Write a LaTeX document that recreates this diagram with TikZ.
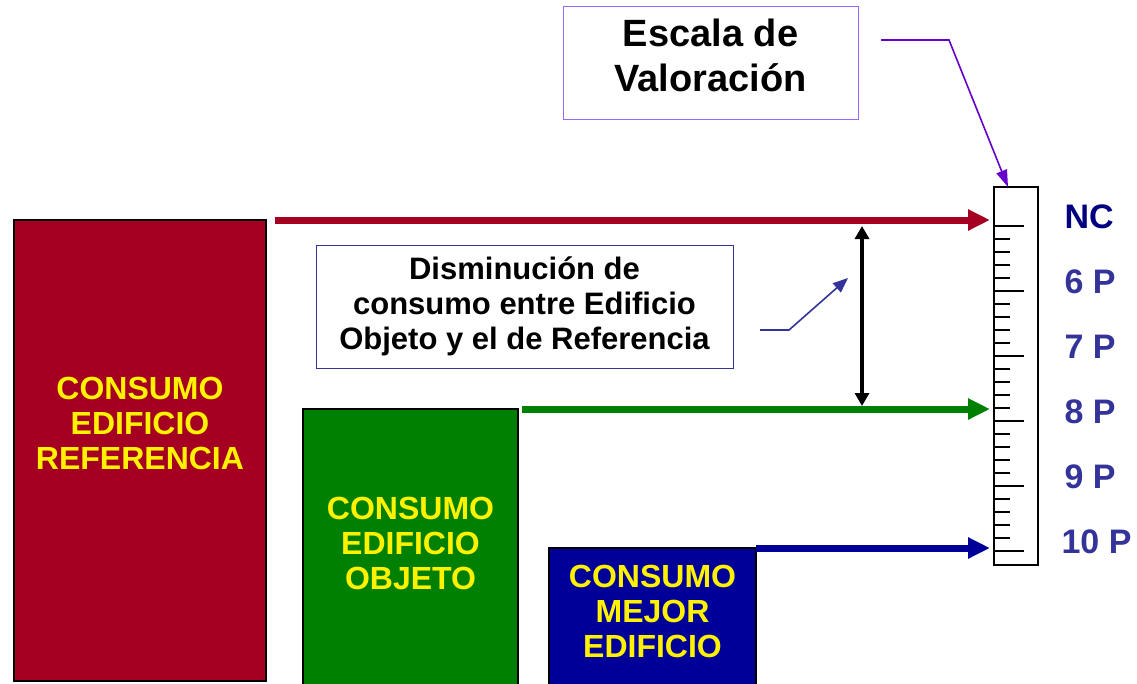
\documentclass[tikz,border=0pt]{standalone}
\usepackage{fontspec}
\setmainfont{Liberation Sans}
\usepackage{xcolor}
\usetikzlibrary{arrows.meta,positioning}

\definecolor{refred}{HTML}{A50021}
\definecolor{objgreen}{HTML}{008000}
\definecolor{bestblue}{HTML}{000099}
\definecolor{levelblue}{HTML}{333399}
\definecolor{navyblue}{HTML}{000080}
\definecolor{violetline}{HTML}{6600CC}
\definecolor{violetbox}{HTML}{9966FF}

\begin{document}
\begin{tikzpicture}[
    x=1pt, y=-1pt,
    bar/.style={rectangle, draw=black, line width=1.2pt, inner sep=0pt, outer sep=0pt, anchor=north west},
    bartext/.style={text=yellow, font=\fontsize{32}{35}\selectfont\bfseries, align=center},
    infobox/.style={rectangle, draw=#1, line width=1pt, inner sep=0pt, outer sep=0pt, anchor=north west, fill=white},
    infotext/.style={text=black, align=center},
    levellabel/.style={anchor=west, font=\fontsize{34}{38}\selectfont\bfseries, text=levelblue},
    levelarrow/.style={line width=7pt, -{Triangle[length=22pt, width=20pt]}, shorten >=4pt},
    dblarrow/.style={line width=3.5pt, {Triangle[length=13pt, width=14pt]}-{Triangle[length=13pt, width=14pt]}},
    notearrow/.style={line width=1.6pt, draw=levelblue, -{Triangle[length=15pt, width=12pt]}},
    titlearrow/.style={line width=1.6pt, draw=violetline, -{Triangle[length=17pt, width=11pt]}}
]
\useasboundingbox (0,0) rectangle (1137,683);
\clip (0,0) rectangle (1137,683);

\node (refbar) [bar, fill=refred, minimum width=252pt, minimum height=461pt] at (14,220) {};
\node (objbar) [bar, fill=objgreen, minimum width=215pt, minimum height=277pt] at (303,409) {};
\node (bestbar) [bar, fill=bestblue, minimum width=207pt, minimum height=138pt] at (549,548) {};

\node (reftext) [bartext] at ([yshift=27pt]refbar.center) {CONSUMO\\EDIFICIO\\REFERENCIA};
\node (objtext) [bartext] at ([yshift=4pt]objbar.center) {CONSUMO\\EDIFICIO\\OBJETO};
\node (besttext) [bartext] at ([yshift=6pt]bestbar.center) {CONSUMO\\MEJOR\\EDIFICIO};

\node (scale) [rectangle, draw=black, line width=1.5pt, inner sep=0pt, outer sep=0pt, anchor=north west,
    minimum width=44pt, minimum height=378pt] at (994,187) {};
\foreach \j in {0,...,25} {
    \pgfmathsetmacro\ticklen{mod(\j,5)==0 ? 30 : 16}
    \draw[line width=1.2pt] ([yshift=-39pt-13pt*\j]scale.north west) -- ++(\ticklen,0);
}

\node (lev0) [levellabel, text=navyblue] at (1061,217) {NC};
\foreach \lab [count=\k] in {6 P, 7 P, 8 P, 9 P}
    \node (lev\k) [levellabel] at (1061,217+65*\k) {\lab};
\node (lev5) [levellabel] at (1058,542) {10 P};

\node (notebox) [infobox=levelblue, minimum width=417pt, minimum height=123pt] at (316,245) {};
\node (notetext) [infotext, font=\fontsize{31}{35}\selectfont\bfseries] at (notebox.center)
    {Disminución de\\consumo entre Edificio\\Objeto y el de Referencia};

\node (titlebox) [infobox=violetbox, minimum width=295pt, minimum height=113pt] at (563,6) {};
\node (titletext) [infotext, font=\fontsize{38}{45}\selectfont\bfseries] at ([yshift=7pt]titlebox.center)
    {Escala de\\Valoración};

\draw [levelarrow, refred] ([xshift=9pt]refbar.north east) -- (scale.west |- refbar.north);
\draw [levelarrow, objgreen] ([xshift=4pt]objbar.north east) -- (scale.west |- objbar.north);
\draw [levelarrow, bestblue] (bestbar.north east) -- (scale.west |- bestbar.north);

\coordinate (gap) at (862,0);
\draw [dblarrow] ([yshift=-6pt]gap |- refbar.north) -- ([yshift=3pt]gap |- objbar.north);

\coordinate (notetail) at (760,330);
\coordinate (notebend) at (789,330);
\coordinate (notetip) at (848,278);
\draw [notearrow] (notetail) -- (notebend) -- (notetip);

\coordinate (titletail) at (881,40);
\coordinate (titlebend) at (949,40);
\draw [titlearrow] (titletail) -- (titlebend) -- ([xshift=-8pt]scale.north);

\end{tikzpicture}
\end{document}
